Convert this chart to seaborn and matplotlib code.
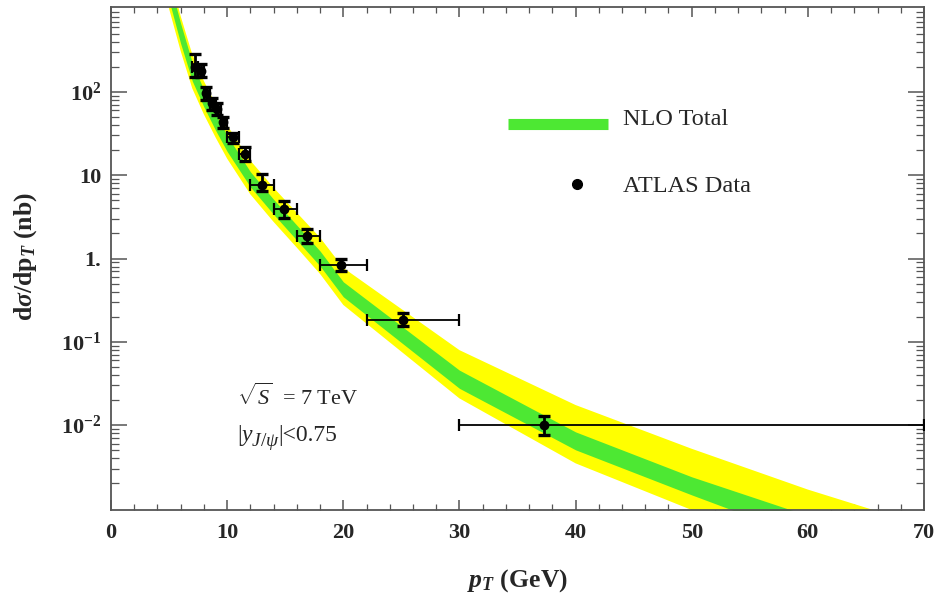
import numpy as np
import pandas as pd
import matplotlib
matplotlib.use("Agg")
import matplotlib.pyplot as plt
from matplotlib.ticker import FixedLocator, FixedFormatter, MultipleLocator, NullFormatter
from matplotlib.transforms import offset_copy
import seaborn as sns

# NLO prediction: band edges at the computed pT nodes (nb/GeV)
band_pt = [5, 6, 7, 8, 9, 10, 12, 14, 16, 18, 20, 30, 40, 50, 60, 70]
green_hi = [2188, 661, 224, 105, 55.0, 29.9, 11.0, 5.13, 2.51, 1.23, 0.525,
            0.0456, 0.00828, 0.00239, 0.00082, 0.000290]
green_lo = [1259, 380, 135, 66.0, 34.7, 19.3, 7.24, 3.39, 1.66, 0.813, 0.347,
            0.0276, 0.00504, 0.00145, 0.000437, 0.000155]
yellow_hi = [2692, 813, 282, 135, 71.6, 39.8, 15.0, 7.08, 3.55, 1.78, 0.773,
             0.0794, 0.0174, 0.00519, 0.00168, 0.000617]
yellow_lo = [1000, 309, 110, 53.7, 28.5, 15.8, 5.89, 2.75, 1.35, 0.653, 0.277,
             0.0209, 0.00347, 0.000955, 0.000282, 0.0000977]

# ATLAS prompt J/psi, |y| < 0.75, 7 TeV
data_pt = [7.23, 7.72, 8.18, 8.67, 9.15, 9.67, 10.48, 11.54, 13.0, 14.9, 16.85, 19.8, 25.1, 37.3]
bin_lo = [7.0, 7.5, 8.0, 8.5, 9.0, 9.5, 10.0, 11.0, 12.0, 14.0, 16.0, 18.0, 22.0, 30.0]
bin_hi = [7.5, 8.0, 8.5, 9.0, 9.5, 10.0, 11.0, 12.0, 14.0, 16.0, 18.0, 22.0, 30.0, 70.0]
xsec = [201, 180, 96.5, 73, 62, 44, 28.6, 18.0, 7.64, 3.93, 1.88, 0.835, 0.182, 0.0100]
err_up = [85, 35, 17.5, 11, 11, 6.5, 3.8, 3.7, 2.76, 0.97, 0.36, 0.161, 0.037, 0.0029]
err_dn = [50, 30, 16.5, 12.2, 9, 7.4, 4.4, 3.0, 1.17, 0.84, 0.36, 0.122, 0.027, 0.0024]

x_ticks = [0, 10, 20, 30, 40, 50, 60, 70]
y_ticks = [1e-2, 1e-1, 1, 10, 100]
y_tick_labels = [r"10$^{\mathbf{-2}}$", r"10$^{\mathbf{-1}}$", "1.", "10", r"10$^{\mathbf{2}}$"]

sns.set_style("ticks")
plt.rcParams["font.family"] = ["Liberation Serif", "DejaVu Serif"]
plt.rcParams["mathtext.fontset"] = "custom"
plt.rcParams["mathtext.rm"] = "Liberation Serif"
plt.rcParams["mathtext.it"] = "Liberation Serif:italic"
plt.rcParams["mathtext.bf"] = "Liberation Serif:bold"
plt.rcParams["mathtext.bfit"] = "Liberation Serif:italic:bold"

GREEN = "#4de833"
YELLOW = "#ffff00"
FRAME = "#555555"

fig = plt.figure(figsize=(9.39, 5.96), dpi=100)
ax = fig.add_axes([111 / 939, 1 - 510 / 596, 813 / 939, 503 / 596])

band = pd.DataFrame({"pt": band_pt, "g_hi": green_hi, "g_lo": green_lo,
                     "y_hi": yellow_hi, "y_lo": yellow_lo})
ax.fill_between(band["pt"], band["y_lo"], band["y_hi"], color=YELLOW, lw=0, zorder=1)
ax.fill_between(band["pt"], band["g_lo"], band["g_hi"], color=GREEN, lw=0, zorder=2)

pts = pd.DataFrame({"pt": data_pt, "xsec": xsec, "lo": bin_lo, "hi": bin_hi,
                    "eu": err_up, "ed": err_dn})
xerr = np.array([pts["pt"] - pts["lo"], pts["hi"] - pts["pt"]])
yerr = np.array([pts["ed"], pts["eu"]])
ax.errorbar(pts["pt"], pts["xsec"], xerr=xerr, fmt="none", ecolor="black",
            elinewidth=1.3, capsize=4, capthick=1.6, zorder=3)
ax.errorbar(pts["pt"], pts["xsec"], yerr=yerr, fmt="none", ecolor="black",
            elinewidth=2.0, capsize=4.5, capthick=2.4, zorder=3)
sns.scatterplot(data=pts, x="pt", y="xsec", ax=ax, color="black", s=50,
                edgecolor="black", linewidth=0, zorder=4, legend=False)

ax.set_yscale("log")
ax.set_xlim(0, 70)
ax.set_ylim(10 ** -3.02, 10 ** 3.02)

ax.xaxis.set_major_locator(FixedLocator(x_ticks))
ax.xaxis.set_minor_locator(MultipleLocator(2))
ax.yaxis.set_major_locator(FixedLocator(y_ticks))
ax.yaxis.set_major_formatter(FixedFormatter(y_tick_labels))
minor_y = [m * 10.0 ** e for e in range(-4, 4) for m in range(2, 10)]
ax.yaxis.set_minor_locator(FixedLocator(minor_y))
ax.yaxis.set_minor_formatter(NullFormatter())

ax.tick_params(which="both", direction="in", top=True, right=True, color=FRAME,
               labelsize=16)
ax.tick_params(axis="x", which="major", length=7, width=1.1, pad=9)
ax.tick_params(axis="x", which="minor", length=4, width=0.9)
ax.tick_params(axis="y", which="major", length=11.5, width=1.1, pad=7)
ax.tick_params(axis="y", which="minor", length=6, width=0.9)
for lab in ax.get_xticklabels() + ax.get_yticklabels():
    lab.set_fontweight("bold")

for sp in ax.spines.values():
    sp.set_color(FRAME)
    sp.set_linewidth(1.3)

ax.set_xlabel(r"$\mathbfit{p}_{\mathbfit{T}}$ (GeV)", fontsize=18.5, fontweight="bold")
ax.set_ylabel(r"d$\mathbfit{\sigma}$/dp$_{\mathbfit{T}}$ (nb)", fontsize=18.5, fontweight="bold")
ax.xaxis.set_label_coords(0.5, -0.113)
ax.yaxis.set_label_coords(-0.088, 0.503)

# legend entries
ax.plot([0.488, 0.611], [0.767, 0.767], transform=ax.transAxes, color=GREEN,
        lw=8, solid_capstyle="butt", zorder=5)
ax.text(0.630, 0.7654, "NLO Total", transform=ax.transAxes, fontsize=17.5,
        va="baseline", ha="left")
ax.plot([0.573], [0.648], transform=ax.transAxes, marker="o", color="black",
        ms=7, zorder=5)
ax.text(0.630, 0.633, "ATLAS Data", transform=ax.transAxes, fontsize=17.5,
        va="baseline", ha="left")


def text_run(x, y, pieces):
    """Lay out text pieces one after another along a shared baseline."""
    renderer = fig.canvas.get_renderer()
    dx = 0.0
    for s, size, dy, style in pieces:
        tr = offset_copy(ax.transAxes, fig=fig, x=dx, y=dy, units="dots")
        t = ax.text(x, y, s, fontsize=size, style=style, va="baseline",
                    ha="left", transform=tr)
        dx += t.get_window_extent(renderer).width


# collision setup
ax.text(0.155, 0.2087, r"$\sqrt{S}$  = 7 TeV", transform=ax.transAxes,
        fontsize=16, va="baseline", ha="left")
text_run(0.155, 0.137, [("|", 17, 0, "normal"),
                        ("y", 17, 0, "italic"),
                        ("J", 14, -5, "italic"),
                        ("/", 14, -5, "normal"),
                        ("\u03c8", 14, -5, "italic"),
                        ("|<0.75", 17, 0, "normal")])

fig.savefig("out.png", dpi=100)
